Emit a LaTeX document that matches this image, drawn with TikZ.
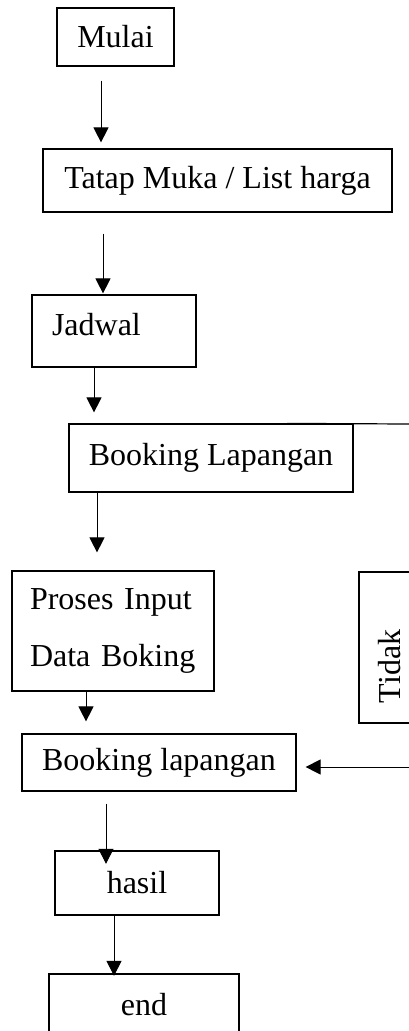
\documentclass[tikz,border=0pt]{standalone}
\usepackage{fontspec}
\setmainfont{Liberation Serif}
\usepackage{tikz}
\usetikzlibrary{arrows.meta}
\tikzset{
    flowbox/.style={rectangle, draw=black, line width=1.2pt, inner sep=0pt, text centered},
    boldbox/.style={rectangle, draw=black, line width=2.3pt, inner sep=0pt, text centered},
    flowarrow/.style={-{Triangle[length=15pt, width=15pt]}, line width=1pt},
    flowline/.style={line width=1.2pt},
}

\begin{document}
\begin{tikzpicture}[x=1pt, y=-1pt, font=\fontsize{32}{38}\selectfont]
        \useasboundingbox (0,0) rectangle (409,1031);
        \clip (0,0) rectangle (409,1031);

        % Main column
        \node[flowbox, minimum width=117pt, minimum height=58pt] (mulai) at (115.5,37) {Mulai};
        \node[flowbox, minimum width=349pt, minimum height=63pt] (tatap) at (217.5,180.5) {Tatap Muka / List harga};
        \node[flowbox, minimum height=72pt, text width=124pt, inner xsep=20pt, align=left, text height=22pt, text depth=14pt] (jadwal) at (114,331) {Jadwal};
        \node[flowbox, minimum width=284pt, minimum height=68pt] (booking) at (211,458) {Booking Lapangan};
        \node[flowbox, minimum height=120pt, text width=166pt, inner xsep=18pt, align=left] (proses) at (113,631) {\mbox{Proses Input}\\[19pt]\mbox{Data Boking}};
        \node[flowbox, minimum width=274pt, minimum height=57pt] (bookinglap) at (159,762.5) {Booking lapangan};
        \node[boldbox, minimum width=164pt, minimum height=64pt] (hasil) at (137,883) {hasil};
        \node[boldbox, minimum width=190pt, minimum height=62pt] (finish) at (144,1005) {end};

        % Loop back
        \node[flowbox, rotate=90, minimum width=151pt, minimum height=62pt, text width=111pt, inner xsep=20pt, align=left] (tidak) at (390,647.5) {Tidak};
        \coordinate (tidakout) at (409,424);
        \coordinate (tidakin) at (409,767);

        % Arrows
        \draw[flowarrow, shorten <=14pt, shorten >=6pt] ([xshift=-14.5pt]mulai.south) -- ([xshift=-116.5pt]tatap.north);
        \draw[flowarrow, shorten <=21pt, shorten >=1pt] ([xshift=-114.5pt]tatap.south) -- ([xshift=-11pt]jadwal.north);
        \draw[flowarrow, shorten >=11pt] ([xshift=-20pt]jadwal.south) -- ([xshift=-117pt]booking.north);
        \draw[flowarrow, shorten >=18pt] ([xshift=-114pt]booking.south) -- ([xshift=-16pt]proses.north);
        \draw[flowarrow, shorten >=12pt] ([xshift=-27pt]proses.south) -- ([xshift=-73pt]bookinglap.north);
        \draw[flowarrow, shorten <=12pt, shorten >=-14pt] ([xshift=-53pt]bookinglap.south) -- ([xshift=-31pt]hasil.north);
        \draw[flowarrow, shorten >=-3pt] ([xshift=-23pt]hasil.south) -- ([xshift=-30pt]finish.north);
        \draw[flowline] (tidakout) -- ([xshift=76pt]booking.north);
        \draw[flowarrow, shorten >=9pt] (tidakin) -- ([yshift=-4.5pt]bookinglap.east);
    \end{tikzpicture}
\end{document}
